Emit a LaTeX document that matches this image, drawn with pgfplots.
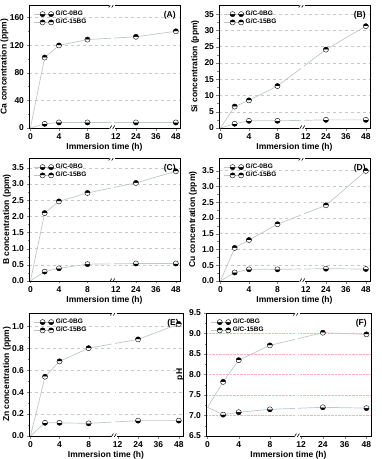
\documentclass[border=0pt]{standalone}
\usepackage{fontspec}
\setmainfont{Liberation Sans}
\usepackage{pgfplots}
\pgfplotsset{compat=1.18}
\definecolor{ln}{RGB}{190,200,202}
\definecolor{gr}{RGB}{200,200,200}
\pgfplotsset{
 panel/.style={scale only axis, width=151pt, height=123pt,
  x coord trafo/.code={\pgfmathparse{ifthenelse(##1<=12,##1/4,3+(##1-12)*0.7/12)}},
  xmin=-0.2, xmax=50.5,
  xtick={0,4,8,12,24,36,48}, xticklabels={0,4,8,12,24,36,48},
  xtick pos=bottom, ytick pos=left, tick align=outside,
  minor y tick num=1,
  major tick length=2.5pt, minor tick length=1.5pt,
  /pgf/number format/assume math mode=true,
  tick label style={font=\fontsize{8.5}{9}\selectfont\bfseries},
  yticklabel style={xshift=1pt},
  label style={font=\fontsize{8.5}{9}\selectfont\bfseries},
  xlabel={Immersion time (h)},
  xlabel style={yshift=4pt},
  ylabel style={yshift=-5.5pt},
  ymajorgrids, grid style={dashed, gr, line width=0.4pt},
  axis line style={line width=0.6pt},
  legend style={draw=none, fill=none, at={(0.01,0.985)}, anchor=north west,
    font=\fontsize{6.5}{7}\selectfont\bfseries, row sep=-2pt},
  legend cell align=left,
 },
 rcol/.style={ylabel style={yshift=4pt}},
 s0/.style={ln, line width=0.7pt, mark=halfcircle*, mark size=2.6pt,
   mark options={draw=black, fill=black, rotate=180, line width=0.4pt}, mark indices={2,3,4,5,6}},
 s15/.style={ln, line width=0.7pt, mark=halfcircle*, mark size=2.6pt,
   mark options={draw=black, fill=black, line width=0.4pt}, mark indices={2,3,4,5,6}},
}
\newcommand{\brkat}[1]{%
  \fill[white] ([xshift=-3pt,yshift=-1pt]rel axis cs:0.551,#1) rectangle ([xshift=3pt,yshift=1pt]rel axis cs:0.551,#1);
  \draw[line width=0.6pt] ([xshift=-3.5pt,yshift=-2.5pt]rel axis cs:0.551,#1) -- ++(3pt,5pt);
  \draw[line width=0.6pt] ([xshift=-0.5pt,yshift=-2.5pt]rel axis cs:0.551,#1) -- ++(3pt,5pt);}
\newcommand{\brk}{%
  \fill[white] ([xshift=-1.5pt]rel axis cs:0.551,0.02) rectangle ([xshift=1.5pt]rel axis cs:0.551,0.98);
  \brkat{0}\brkat{1}}
\newcommand{\plab}[1]{\node[anchor=north east, font=\fontsize{8.5}{9}\selectfont\bfseries] at (rel axis cs:0.995,0.975) {#1};}
\begin{document}
\begin{tikzpicture}
\useasboundingbox (0pt,0pt) rectangle (382pt,-459pt);
% A
\begin{axis}[panel, at={(29pt,-5pt)}, anchor=north west, ymin=0, ymax=178, ytick={0,40,80,120,160},
  ylabel={Ca concentration (ppm)}]
\addplot[s0] coordinates {(0,0) (2,6) (4,8) (8,8) (24,8) (48,8)};
\addlegendentry{G/C-0BG}
\addplot[s15] coordinates {(0,0) (2,102) (4,119.5) (8,128) (24,132) (48,140)};
\addlegendentry{G/C-15BG}
\brk \plab{(A)}
\end{axis}
% B
\begin{axis}[panel, rcol, at={(219pt,-5pt)}, anchor=north west, ymin=0, ymax=37.8, ytick={0,5,...,35},
  ylabel={Si concentration (ppm)}]
\addplot[s0] coordinates {(0,0) (2,1.3) (4,2.2) (8,2.2) (24,2.5) (48,2.5)};
\addlegendentry{G/C-0BG}
\addplot[s15] coordinates {(0,0) (2,6.6) (4,8.5) (8,12.9) (24,24.1) (48,31.3)};
\addlegendentry{G/C-15BG}
\brk \plab{(B)}
\end{axis}
% C
\begin{axis}[panel, at={(29pt,-158pt)}, anchor=north west, ymin=0, ymax=3.8, ytick={0,0.5,...,3.5},
  yticklabel style={/pgf/number format/.cd, fixed, fixed zerofill, precision=1},
  ylabel={B concentration (ppm)}]
\addplot[s0] coordinates {(0,0) (2,0.29) (4,0.39) (8,0.52) (24,0.54) (48,0.54)};
\addlegendentry{G/C-0BG}
\addplot[s15] coordinates {(0,0) (2,2.1) (4,2.46) (8,2.72) (24,3.03) (48,3.39)};
\addlegendentry{G/C-15BG}
\brk \plab{(C)}
\end{axis}
% D
\begin{axis}[panel, rcol, at={(219pt,-158pt)}, anchor=north west, ymin=0, ymax=3.9, ytick={0,0.5,...,3.5},
  yticklabel style={/pgf/number format/.cd, fixed, fixed zerofill, precision=1},
  ylabel={Cu concentration (ppm)}]
\addplot[s0] coordinates {(0,0) (2,0.27) (4,0.37) (8,0.37) (24,0.39) (48,0.38)};
\addlegendentry{G/C-0BG}
\addplot[s15] coordinates {(0,0) (2,1.05) (4,1.3) (8,1.8) (24,2.4) (48,3.49)};
\addlegendentry{G/C-15BG}
\brk \plab{(D)}
\end{axis}
% E
\begin{axis}[panel, at={(29pt,-313pt)}, anchor=north west, width=154pt, ymin=0, ymax=1.12, ytick={0,0.2,...,1.0},
  yticklabel style={/pgf/number format/.cd, fixed, fixed zerofill, precision=1},
  ylabel={Zn concentration (ppm)}]
\addplot[s0] coordinates {(0,0) (2,0.12) (4,0.12) (8,0.115) (24,0.14) (48,0.14)};
\addlegendentry{G/C-0BG}
\addplot[s15] coordinates {(0,0) (2,0.54) (4,0.68) (8,0.80) (24,0.88) (48,1.02)};
\addlegendentry{G/C-15BG}
\brk \plab{(E)}
\end{axis}
% F
\begin{axis}[panel, rcol, at={(206pt,-313pt)}, anchor=north west, width=165pt, ymin=6.5, ymax=9.5, ytick={6.5,7,...,9.5},
  yticklabel style={/pgf/number format/.cd, fixed, fixed zerofill, precision=1},
  grid style={densely dotted, red!30, line width=0.4pt},
  ylabel={pH}]
\addplot[s0] coordinates {(0,7.2) (2,7.02) (4,7.08) (8,7.15) (24,7.2) (48,7.18)};
\addlegendentry{G/C-0BG}
\addplot[s15] coordinates {(0,7.2) (2,7.82) (4,8.35) (8,8.71) (24,9.02) (48,8.98)};
\addlegendentry{G/C-15BG}
\brk \plab{(F)}
\end{axis}
\end{tikzpicture}
\end{document}
